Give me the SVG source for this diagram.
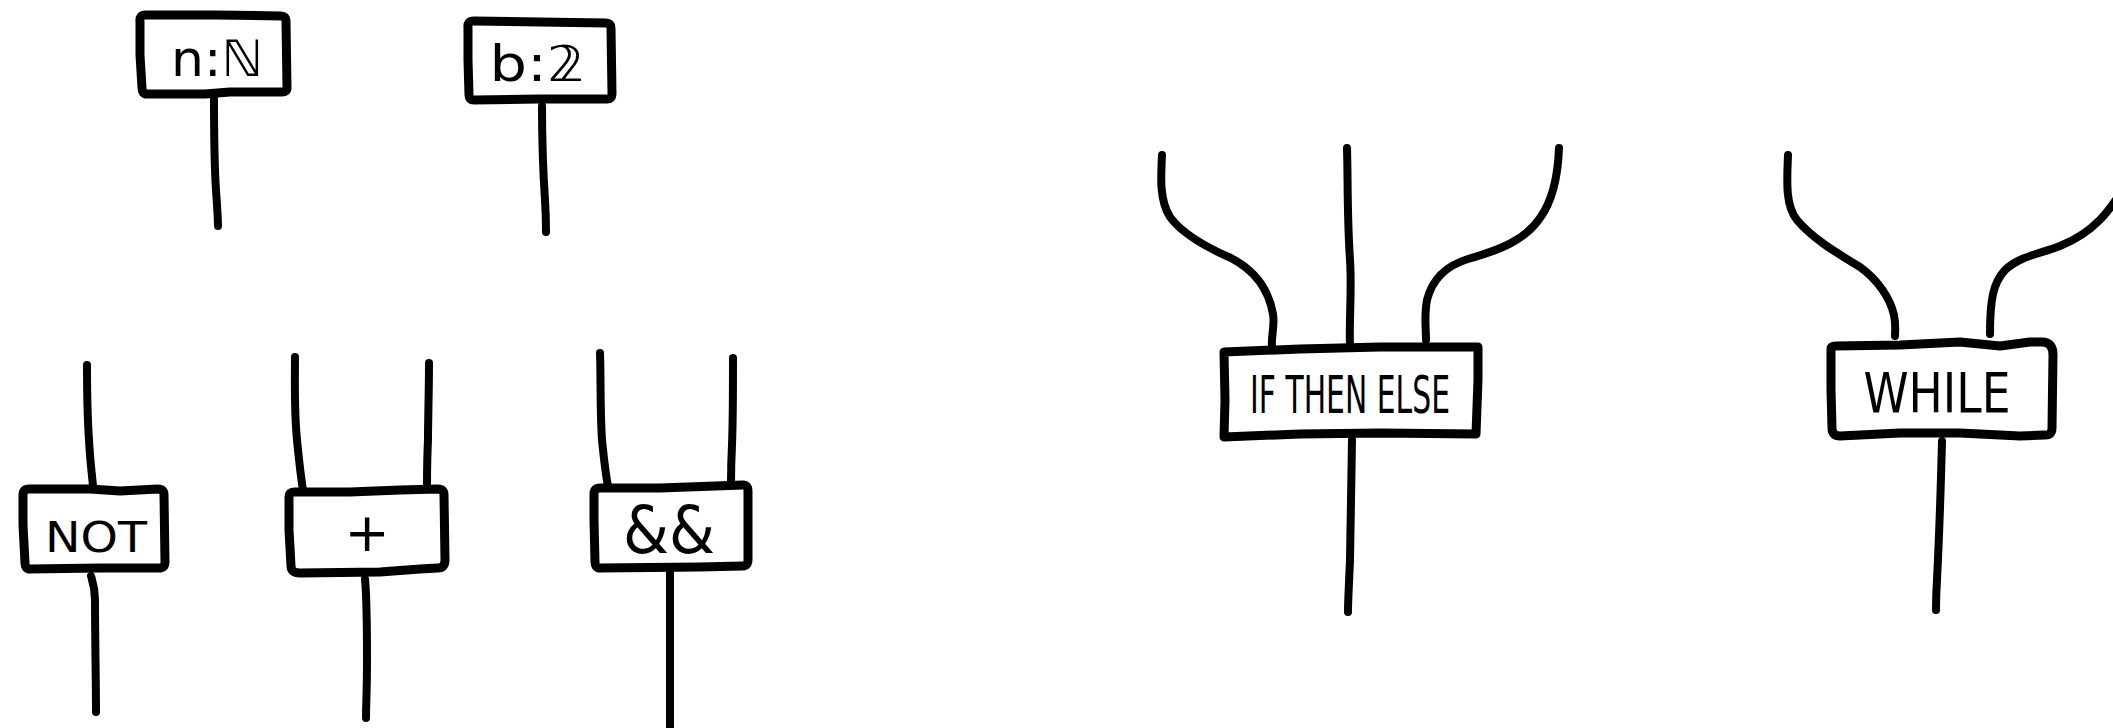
<svg xmlns="http://www.w3.org/2000/svg" width="2113" height="728" viewBox="0 0 2113 728">
<style>
.box{fill:#fff;stroke:#000;stroke-width:9;stroke-linejoin:round;stroke-linecap:round}
.wire{fill:none;stroke:#000;stroke-width:8;stroke-linecap:round;stroke-linejoin:round}
.lbl{font-family:"DejaVu Sans","Noto Sans",sans-serif;fill:#000;text-anchor:middle}
</style>
<rect width="2113" height="728" fill="#fff"/>
<g id="connectors">
<path class="wire" d="M214,99 C214,130 214,160 216,190 C217,205 218,218 218,226"/>
<path class="wire" d="M542,106 C542,140 543,170 545,200 C546,215 546,225 546,232"/>
<path class="wire" d="M87,365 C87,390 87,410 89,440 C90,460 92,475 93,486"/>
<path class="wire" d="M91,576 C93,583 95,588 95,600 C95,640 96,680 96,712"/>
<path class="wire" d="M295,357 C295,380 294,410 297,440 C299,460 301,478 303,490"/>
<path class="wire" d="M429,363 C429,390 428,420 428,440 C427,460 427,476 427,487"/>
<path class="wire" d="M365,579 C367,600 367,630 367,660 C367,690 366,705 366,718"/>
<path class="wire" d="M600,353 C601,380 600,410 602,440 C604,460 606,476 608,486"/>
<path class="wire" d="M733,358 C733,390 733,420 732,445 C731,465 731,475 731,483"/>
<path class="wire" d="M670,573 L670,728"/>
<path class="wire" d="M1162,155 C1161,175 1159,200 1170,217 C1181,232 1201,245 1231,258 C1256,271 1269,291 1273,314 C1275,326 1271,336 1272,346"/>
<path class="wire" d="M1347,148 C1348,180 1347,215 1350,260 C1352,290 1349,320 1350,345"/>
<path class="wire" d="M1559,148 C1558,175 1553,200 1540,218 C1525,240 1500,250 1468,259 C1445,266 1432,280 1427,300 C1424,315 1426,328 1426,340"/>
<path class="wire" d="M1352,440 C1351,480 1351,520 1350,560 C1349,585 1348,600 1348,612"/>
<path class="wire" d="M1788,155 C1787,180 1785,205 1797,220 C1812,238 1835,252 1860,267 C1878,280 1890,298 1894,315 C1896,325 1895,332 1895,336"/>
<path class="wire" d="M2125,186 C2110,210 2095,232 2060,246 C2040,254 2020,256 2005,270 C1993,283 1990,300 1990,334"/>
<path class="wire" d="M1942,441 C1941,480 1939,540 1937,580 C1936,595 1936,605 1936,610"/>
</g>
<g id="node-n">
<path class="box" d="M140,22 Q139,15 146,15 L215,15 L281,16 Q286,16 286,21 L287,88 Q287,92 282,92 L230,92 L205,94 L147,94 Q142,94 142,88 L140,55 Z"/>
<text class="lbl" x="217" y="76" font-size="50" textLength="92" lengthAdjust="spacingAndGlyphs">n:ℕ</text>
</g>
<g id="node-b">
<path class="box" d="M468,28 Q467,21 474,21 L540,22 L606,23 Q611,23 611,28 L612,94 Q612,99 607,99 L540,99 L474,100 Q469,100 469,95 L468,60 Z"/>
<text class="lbl" x="537" y="81" font-size="50" textLength="95" lengthAdjust="spacingAndGlyphs">b:𝟚</text>
</g>
<g id="node-not">
<path class="box" d="M23,495 Q23,489 29,489 L90,489 L120,491 L158,489 Q164,489 164,495 L165,562 Q165,568 159,568 L100,568 L30,569 Q25,569 25,563 L23,525 Z"/>
<text class="lbl" x="96" y="552" font-size="42" textLength="102" lengthAdjust="spacingAndGlyphs">NOT</text>
</g>
<g id="node-plus">
<path class="box" d="M289,497 Q289,492 294,492 L350,492 L400,490 L438,489 Q444,489 444,495 L445,560 Q445,568 438,568 L420,569 L380,572 L300,573 Q291,573 291,566 L289,530 Z"/>
<text class="lbl" x="367" y="551" font-size="54">+</text>
</g>
<g id="node-and">
<path class="box" d="M594,494 Q594,488 600,488 L660,488 L743,485 Q748,485 748,491 L748,560 Q748,566 742,566 L700,567 L600,568 Q595,568 595,562 L594,520 Z"/>
<text class="lbl" x="669" y="553" font-size="66" textLength="92" lengthAdjust="spacingAndGlyphs">&amp;&amp;</text>
</g>
<g id="node-ite">
<path class="box" d="M1224,352 L1300,349 L1380,347 L1478,347 L1478,380 L1476,434 L1380,433 L1300,434 L1224,437 L1225,400 Z"/>
<text class="lbl" x="1350" y="413" font-size="52" textLength="200" lengthAdjust="spacingAndGlyphs">IF THEN ELSE</text>
</g>
<g id="node-while">
<path class="box" d="M1831,349 Q1831,346 1836,346 L1900,345 L1960,342 L2000,346 L2030,342 L2042,342 Q2053,342 2053,355 L2052,428 Q2052,436 2044,435 L2020,436 L1960,433 L1900,433 L1840,436 Q1832,436 1832,428 L1831,390 Z"/>
<text class="lbl" x="1937" y="412" font-size="56" textLength="147" lengthAdjust="spacingAndGlyphs">WHILE</text>
</g>
</svg>
